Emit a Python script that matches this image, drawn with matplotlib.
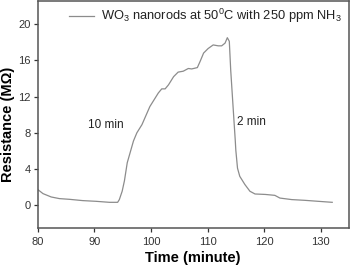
import numpy as np
import matplotlib; matplotlib.use("Agg"); import matplotlib.pyplot as plt

plt.rcParams["font.family"] = ["Liberation Sans", "DejaVu Sans"]
plt.rcParams["mathtext.default"] = "regular"

# time (minute) and resistance (MOhm)
time_min = [80, 80.9, 82.35, 83.8, 85.6, 87.9, 90.3, 92.65, 94.1, 94.4, 94.9, 95.3,
            95.8, 96.9, 97.5, 98.4, 99.8, 100.4, 101.3, 101.9, 102.5, 103.1, 104.0,
            104.8, 105.7, 106.6, 107.2, 108.2, 108.7, 109.3, 110.1, 111.0, 111.9,
            112.5, 113.1, 113.5, 113.85, 114.1, 114.4, 114.7, 114.9, 115.0, 115.3,
            115.7, 116.6, 117.5, 118.4, 120.2, 121.9, 122.8, 124.9, 127.2, 129.6, 132.05]
resistance = [1.73, 1.29, 0.92, 0.74, 0.66, 0.52, 0.44, 0.33, 0.33, 0.63, 1.55, 2.7,
              4.7, 7.1, 8.0, 8.9, 10.9, 11.5, 12.4, 12.85, 12.85, 13.3, 14.2,
              14.7, 14.8, 15.1, 15.05, 15.2, 15.9, 16.8, 17.3, 17.7, 17.6,
              17.6, 17.9, 18.5, 18.1, 14.9, 12.0, 9.1, 7.2, 6.1, 4.1,
              3.2, 2.3, 1.55, 1.25, 1.2, 1.1, 0.8, 0.63, 0.55, 0.44, 0.33]
xticks = [80, 90, 100, 110, 120, 130]
yticks = [0, 4, 8, 12, 16, 20]

fig = plt.figure(figsize=(3.51, 2.66), dpi=100)
ax = fig.add_axes([0.108, 0.143, 0.886, 0.855])
ax.plot(time_min, resistance, color="#8c8c8c", lw=0.9,
        label=r"WO$_3$ nanorods at 50$^0$C with 250 ppm NH$_3$")
ax.set_xlim(80, 135)
ax.set_ylim(-2.5, 22.6)
ax.set_xticks(xticks); ax.set_yticks(yticks)
ax.tick_params(direction="out", length=3, width=0.9, labelsize=8, pad=2,
               colors="#333333", top=False, right=False)
ax.tick_params(axis="x", pad=3.5)
for s in ax.spines.values():
    s.set_color("#555555"); s.set_linewidth(1.1)

ax.text(95.1, 8.9, "10 min", fontsize=8.5, ha="right", va="center", color="#222222")
ax.text(115.2, 9.2, "2 min", fontsize=8.5, ha="left", va="center", color="#222222")

ax.legend(loc="upper right", frameon=False, fontsize=9.3, handlelength=1.95,
          borderaxespad=0.1, handletextpad=0.55, labelcolor="#222222")

ax.set_xlabel("Time (minute)", fontsize=10.5, fontweight="bold")
ax.set_ylabel("Resistance (MΩ)", fontsize=10.5, fontweight="bold")
ax.xaxis.set_label_coords(0.497, -0.101)
ax.yaxis.set_label_coords(-0.074, 0.457)

fig.savefig("out.png", dpi=100)
